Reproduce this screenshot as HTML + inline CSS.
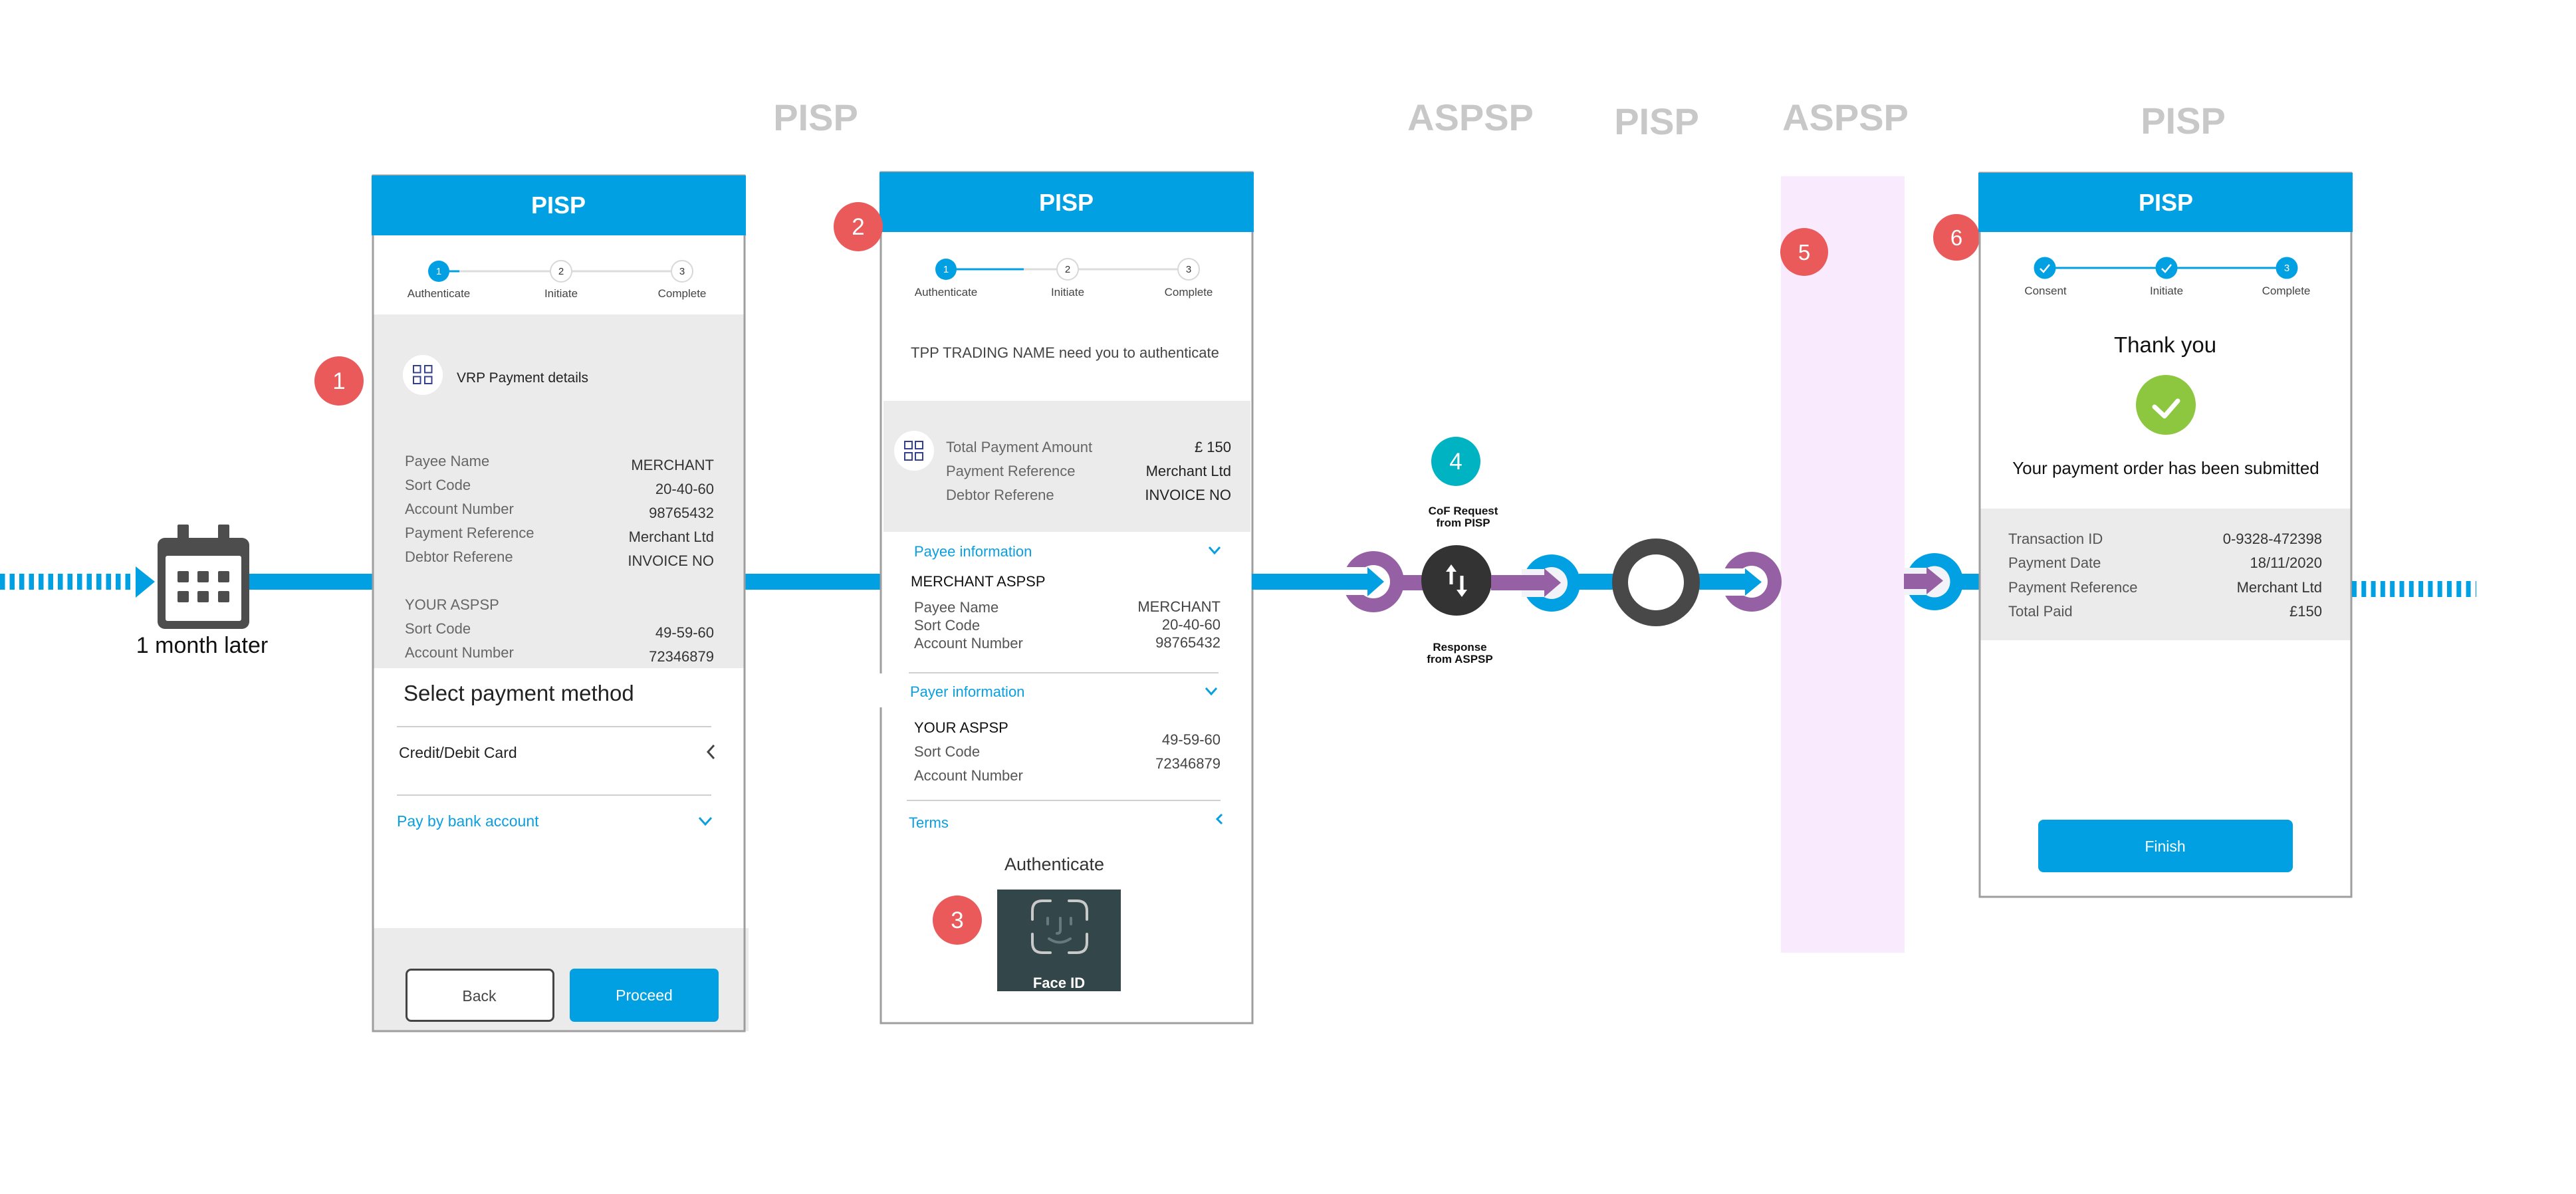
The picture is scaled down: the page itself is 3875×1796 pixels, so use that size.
<!DOCTYPE html>
<html>
<head>
<meta charset="utf-8">
<style>
  html, body { margin:0; padding:0; background:#fff; }
  svg { display:block; }
</style>
</head>
<body>
<svg width="3875" height="1796" viewBox="0 0 3875 1796" xmlns="http://www.w3.org/2000/svg" font-family="'Liberation Sans', Arial, sans-serif">
  <defs>
    <pattern id="dashL" x="0" y="0" width="14.5" height="24" patternUnits="userSpaceOnUse">
      <rect x="0" y="0" width="7.5" height="24" fill="#00a0e2"/>
    </pattern>
    <pattern id="dashR" x="3538" y="0" width="14.3" height="24" patternUnits="userSpaceOnUse">
      <rect x="0" y="0" width="7" height="24" fill="#00a0e2"/>
    </pattern>
  </defs>

  <rect x="0" y="0" width="3875" height="1796" fill="#ffffff"/>

  <!-- Big grey actor labels -->
  <g font-size="56" font-weight="bold" fill="#c8c8c8" text-anchor="middle">
    <text x="1227" y="196">PISP</text>
    <text x="2212" y="196">ASPSP</text>
    <text x="2492" y="202">PISP</text>
    <text x="2776" y="196">ASPSP</text>
    <text x="3284" y="201">PISP</text>
  </g>

  <!-- Pink column -->
  <rect x="2679" y="265" width="186" height="1168" fill="#f9ebfd"/>

  <!-- Left dashed line + arrow -->
  <rect x="0" y="863" width="199" height="24" fill="url(#dashL)"/>
  <polygon points="204,852 233,875 204,899" fill="#00a0e2"/>

  <!-- Calendar -->
  <g fill="#4d4d4d">
    <rect x="267" y="789" width="17" height="24" rx="2"/>
    <rect x="328" y="789" width="17" height="24" rx="2"/>
    <rect x="237" y="809" width="138" height="137" rx="11"/>
  </g>
  <rect x="249" y="836" width="114" height="98" rx="3" fill="#ffffff"/>
  <g fill="#4d4d4d">
    <rect x="267" y="859" width="17" height="17" rx="2"/>
    <rect x="297" y="859" width="17" height="17" rx="2"/>
    <rect x="328" y="859" width="17" height="17" rx="2"/>
    <rect x="267" y="889" width="17" height="17" rx="2"/>
    <rect x="297" y="889" width="17" height="17" rx="2"/>
    <rect x="328" y="889" width="17" height="17" rx="2"/>
  </g>
  <text x="304" y="982" font-size="34" fill="#111" text-anchor="middle">1 month later</text>

  <!-- Blue connectors between cards -->
  <rect x="375" y="863" width="187" height="24" fill="#00a0e2"/>
  <rect x="1120" y="863" width="206" height="24" fill="#00a0e2"/>

  <!-- ================= CARD 1 ================= -->
  <rect x="561" y="264" width="559" height="1287" fill="#ffffff"/>
  <rect x="562" y="473" width="557" height="532" fill="#ebebeb"/>
  <rect x="562" y="1396" width="564" height="155" fill="#ebebeb"/>
  <rect x="561" y="264" width="559" height="1287" fill="none" stroke="#9e9e9e" stroke-width="3"/>
  <rect x="559" y="264" width="563" height="90" fill="#00a0e2"/>
  <text x="840" y="321" font-size="36" font-weight="bold" fill="#fff" text-anchor="middle">PISP</text>

  <!-- steps -->
  <line x1="660" y1="408" x2="1026" y2="408" stroke="#dcdcdc" stroke-width="3"/>
  <line x1="660" y1="408" x2="691" y2="408" stroke="#00a0e2" stroke-width="3"/>
  <circle cx="660" cy="408" r="16" fill="#00a0e2"/>
  <circle cx="844" cy="408" r="16" fill="#fff" stroke="#d8d8d8" stroke-width="2"/>
  <circle cx="1026" cy="408" r="16" fill="#fff" stroke="#d8d8d8" stroke-width="2"/>
  <g font-size="15" text-anchor="middle">
    <text x="660" y="413" fill="#fff">1</text>
    <text x="844" y="413" fill="#333">2</text>
    <text x="1026" y="413" fill="#333">3</text>
  </g>
  <g font-size="17" fill="#444" text-anchor="middle">
    <text x="660" y="447">Authenticate</text>
    <text x="844" y="447">Initiate</text>
    <text x="1026" y="447">Complete</text>
  </g>

  <!-- VRP details -->
  <circle cx="636" cy="564" r="30" fill="#fff"/>
  <g fill="none" stroke="#34408f" stroke-width="2">
    <rect x="622" y="550" width="10.5" height="10.5"/>
    <rect x="639" y="550" width="10.5" height="10.5"/>
    <rect x="622" y="566.5" width="10.5" height="10.5"/>
    <rect x="639" y="566.5" width="10.5" height="10.5"/>
  </g>
  <text x="687" y="575" font-size="21" fill="#222">VRP Payment details</text>

  <g font-size="22" fill="#666">
    <text x="609" y="701">Payee Name</text>
    <text x="609" y="737">Sort Code</text>
    <text x="609" y="773">Account Number</text>
    <text x="609" y="809">Payment Reference</text>
    <text x="609" y="845">Debtor Referene</text>
    <text x="609" y="917">YOUR ASPSP</text>
    <text x="609" y="953">Sort Code</text>
    <text x="609" y="989">Account Number</text>
  </g>
  <g font-size="22" fill="#333" text-anchor="end">
    <text x="1074" y="707">MERCHANT</text>
    <text x="1074" y="743">20-40-60</text>
    <text x="1074" y="779">98765432</text>
    <text x="1074" y="815">Merchant Ltd</text>
    <text x="1074" y="851">INVOICE NO</text>
    <text x="1074" y="959">49-59-60</text>
    <text x="1074" y="995">72346879</text>
  </g>

  <text x="607" y="1054" font-size="33" fill="#222">Select payment method</text>
  <line x1="597" y1="1093" x2="1070" y2="1093" stroke="#cfcfcf" stroke-width="2"/>
  <text x="600" y="1140" font-size="23" fill="#222">Credit/Debit Card</text>
  <polyline points="1074,1121 1065,1131 1074,1141" fill="none" stroke="#444" stroke-width="3"/>
  <line x1="597" y1="1196" x2="1070" y2="1196" stroke="#cfcfcf" stroke-width="2"/>
  <text x="597" y="1243" font-size="23" fill="#0a9fe0">Pay by bank account</text>
  <polyline points="1052,1230 1061,1240 1070,1230" fill="none" stroke="#0a9fe0" stroke-width="3"/>

  <rect x="611.5" y="1458.5" width="221" height="77" rx="7" fill="#fff" stroke="#444" stroke-width="3"/>
  <text x="721" y="1506" font-size="23" fill="#444" text-anchor="middle">Back</text>
  <rect x="857" y="1457" width="224" height="80" rx="7" fill="#00a0e2"/>
  <text x="969" y="1505" font-size="23" fill="#fff" text-anchor="middle">Proceed</text>

  <!-- Badge 1 -->
  <circle cx="510" cy="573" r="37" fill="#ea5a5a"/>
  <text x="510" y="585" font-size="35" fill="#fff" text-anchor="middle">1</text>

  <!-- ================= CARD 2 ================= -->
  <rect x="1325" y="259" width="559" height="1280" fill="#ffffff"/>
  <rect x="1329" y="603" width="552" height="197" fill="#ebebeb"/>
  <rect x="1325" y="259" width="559" height="1280" fill="none" stroke="#9e9e9e" stroke-width="3"/>
  <rect x="1323" y="259" width="563" height="90" fill="#00a0e2"/>
  <text x="1604" y="317" font-size="36" font-weight="bold" fill="#fff" text-anchor="middle">PISP</text>
  <!-- gap in left border -->
  <rect x="1322" y="1013" width="6" height="51" fill="#fff"/>

  <!-- steps -->
  <line x1="1423" y1="405" x2="1788" y2="405" stroke="#dcdcdc" stroke-width="3"/>
  <line x1="1423" y1="405" x2="1540" y2="405" stroke="#00a0e2" stroke-width="3"/>
  <circle cx="1423" cy="405" r="16" fill="#00a0e2"/>
  <circle cx="1606" cy="405" r="16" fill="#fff" stroke="#d8d8d8" stroke-width="2"/>
  <circle cx="1788" cy="405" r="16" fill="#fff" stroke="#d8d8d8" stroke-width="2"/>
  <g font-size="15" text-anchor="middle">
    <text x="1423" y="410" fill="#fff">1</text>
    <text x="1606" y="410" fill="#333">2</text>
    <text x="1788" y="410" fill="#333">3</text>
  </g>
  <g font-size="17" fill="#444" text-anchor="middle">
    <text x="1423" y="445">Authenticate</text>
    <text x="1606" y="445">Initiate</text>
    <text x="1788" y="445">Complete</text>
  </g>

  <text x="1370" y="538" font-size="22" fill="#444">TPP TRADING NAME need you to authenticate</text>

  <circle cx="1375" cy="678" r="30" fill="#fff"/>
  <g fill="none" stroke="#34408f" stroke-width="2">
    <rect x="1361" y="664" width="11" height="11"/>
    <rect x="1377" y="664" width="11" height="11"/>
    <rect x="1361" y="681" width="11" height="11"/>
    <rect x="1377" y="681" width="11" height="11"/>
  </g>
  <g font-size="22" fill="#666">
    <text x="1423" y="680">Total Payment Amount</text>
    <text x="1423" y="716">Payment Reference</text>
    <text x="1423" y="752">Debtor Referene</text>
  </g>
  <g font-size="22" fill="#222" text-anchor="end">
    <text x="1852" y="680">£ 150</text>
    <text x="1852" y="716">Merchant Ltd</text>
    <text x="1852" y="752">INVOICE NO</text>
  </g>

  <text x="1375" y="837" font-size="22" fill="#0a9fe0">Payee information</text>
  <polyline points="1819,823 1827,832 1835,823" fill="none" stroke="#0a9fe0" stroke-width="3"/>
  <text x="1370" y="882" font-size="22" fill="#111">MERCHANT ASPSP</text>
  <g font-size="22" fill="#555">
    <text x="1375" y="921">Payee Name</text>
    <text x="1375" y="948">Sort Code</text>
    <text x="1375" y="975">Account Number</text>
  </g>
  <g font-size="22" fill="#444" text-anchor="end">
    <text x="1836" y="920">MERCHANT</text>
    <text x="1836" y="947">20-40-60</text>
    <text x="1836" y="974">98765432</text>
  </g>
  <line x1="1367" y1="1012" x2="1833" y2="1012" stroke="#cfcfcf" stroke-width="2"/>
  <text x="1369" y="1048" font-size="22" fill="#0a9fe0">Payer information</text>
  <polyline points="1814,1035 1822,1044 1830,1035" fill="none" stroke="#0a9fe0" stroke-width="3"/>
  <text x="1375" y="1102" font-size="22" fill="#111">YOUR ASPSP</text>
  <g font-size="22" fill="#555">
    <text x="1375" y="1138">Sort Code</text>
    <text x="1375" y="1174">Account Number</text>
  </g>
  <g font-size="22" fill="#444" text-anchor="end">
    <text x="1836" y="1120">49-59-60</text>
    <text x="1836" y="1156">72346879</text>
  </g>
  <line x1="1364" y1="1204" x2="1836" y2="1204" stroke="#cfcfcf" stroke-width="2"/>
  <text x="1367" y="1245" font-size="22" fill="#0a9fe0">Terms</text>
  <polyline points="1838,1225 1831,1232 1838,1239" fill="none" stroke="#0a9fe0" stroke-width="3"/>

  <text x="1586" y="1309" font-size="27" fill="#333" text-anchor="middle">Authenticate</text>
  <rect x="1500" y="1338" width="186" height="153" fill="#33464a"/>
  <g fill="none" stroke="#c9c9c9" stroke-width="4" stroke-linecap="round">
    <path d="M1553 1383 V1370 Q1553 1355 1568 1355 H1580"/>
    <path d="M1608 1355 H1620 Q1635 1355 1635 1370 V1383"/>
    <path d="M1553 1405 V1418 Q1553 1433 1568 1433 H1580"/>
    <path d="M1608 1433 H1620 Q1635 1433 1635 1418 V1405"/>
  </g>
  <g fill="none" stroke="#66797d" stroke-width="4" stroke-linecap="round">
    <line x1="1576" y1="1381" x2="1576" y2="1390"/>
    <line x1="1611" y1="1381" x2="1611" y2="1390"/>
    <path d="M1595 1381 V1399 Q1595 1404 1590 1404"/>
    <path d="M1578 1412 Q1594 1423 1610 1412"/>
  </g>
  <text x="1593" y="1486" font-size="22" font-weight="bold" fill="#fff" text-anchor="middle">Face ID</text>

  <!-- Badges 2 & 3 -->
  <circle cx="1291" cy="341" r="37" fill="#ea5a5a"/>
  <text x="1291" y="353" font-size="35" fill="#fff" text-anchor="middle">2</text>
  <circle cx="1440" cy="1384" r="37" fill="#ea5a5a"/>
  <text x="1440" y="1396" font-size="35" fill="#fff" text-anchor="middle">3</text>

  <!-- ================= FLOW ================= -->
  <!-- blue line from card 2 -->
  <rect x="1883" y="863" width="150" height="24" fill="#00a0e2"/>

  <!-- ring 1 (purple) -->
  <circle cx="2066" cy="875" r="46" fill="#9560a4"/>
  <circle cx="2066" cy="875" r="25" fill="#fff"/>
  <rect x="2018" y="853" width="48" height="42" fill="#fff"/>
  <rect x="2000" y="863" width="58" height="24" fill="#00a0e2"/>
  <polygon points="2057,853 2082,875 2057,897" fill="#00a0e2"/>

  <!-- purple link to dark circle -->
  <rect x="2108" y="865" width="40" height="23" fill="#9560a4"/>

  <!-- dark circle -->
  <circle cx="2191" cy="873" r="53" fill="#333"/>
  <g stroke="#fff" stroke-width="5">
    <line x1="2183" y1="856" x2="2183" y2="879"/>
    <line x1="2199" y1="866" x2="2199" y2="890"/>
  </g>
  <polygon points="2175,860 2183,849 2191,860" fill="#fff"/>
  <polygon points="2191,887 2199,898 2207,887" fill="#fff"/>

  <!-- CoF labels -->
  <g font-size="17" font-weight="bold" fill="#111" text-anchor="middle">
    <text x="2201" y="774">CoF Request</text>
    <text x="2201" y="792">from PISP</text>
    <text x="2196" y="979">Response</text>
    <text x="2196" y="997">from ASPSP</text>
  </g>

  <!-- badge 4 -->
  <circle cx="2190" cy="694" r="37" fill="#00b3c3"/>
  <text x="2190" y="706" font-size="35" fill="#fff" text-anchor="middle">4</text>

  <!-- ring 2 (blue) with purple arrow -->
  <circle cx="2334" cy="877" r="43" fill="#00a0e2"/>
  <circle cx="2334" cy="877" r="24" fill="#f2f3f8"/>
  <rect x="2289" y="856" width="45" height="42" fill="#f2f3f8"/>
  <rect x="2243" y="865" width="81" height="23" fill="#9560a4"/>
  <polygon points="2323,855 2348,876.5 2323,898" fill="#9560a4"/>

  <!-- blue line ring2 -> big ring -> ring3 -->
  <rect x="2375" y="863" width="60" height="24" fill="#00a0e2"/>
  <rect x="2548" y="863" width="78" height="24" fill="#00a0e2"/>

  <!-- big dark ring -->
  <circle cx="2491" cy="876" r="54" fill="#fff" stroke="#484848" stroke-width="24"/>

  <!-- ring 3 (purple) -->
  <circle cx="2635" cy="875" r="45" fill="#9560a4"/>
  <circle cx="2635" cy="875" r="24" fill="#fff"/>
  <rect x="2588" y="855" width="47" height="41" fill="#fff"/>
  <rect x="2557" y="863" width="69" height="24" fill="#00a0e2"/>
  <polygon points="2625,855 2650,875.5 2625,896" fill="#00a0e2"/>

  <!-- ring 4 (blue) with purple arrow -->
  <circle cx="2910" cy="875" r="43" fill="#00a0e2"/>
  <circle cx="2910" cy="875" r="23.5" fill="#f2f3f8"/>
  <rect x="2864" y="854" width="46" height="41" fill="#f2f3f8"/>
  <rect x="2864" y="863" width="35" height="23" fill="#9560a4"/>
  <polygon points="2898,853 2923,873.5 2898,894" fill="#9560a4"/>
  <rect x="2950" y="863" width="29" height="24" fill="#00a0e2"/>

  <!-- badges 5 & 6 -->
  <circle cx="2714" cy="379" r="36" fill="#ea5a5a"/>
  <text x="2714" y="391" font-size="33" fill="#fff" text-anchor="middle">5</text>
  <circle cx="2943" cy="357" r="35" fill="#ea5a5a"/>
  <text x="2943" y="369" font-size="33" fill="#fff" text-anchor="middle">6</text>

  <!-- ================= CARD 3 ================= -->
  <rect x="2978" y="260" width="559" height="1089" fill="#ffffff"/>
  <rect x="2979" y="765" width="557" height="198" fill="#ebebeb"/>
  <rect x="2978" y="260" width="559" height="1089" fill="none" stroke="#9e9e9e" stroke-width="3"/>
  <rect x="2976" y="260" width="563" height="89" fill="#00a0e2"/>
  <text x="3258" y="317" font-size="36" font-weight="bold" fill="#fff" text-anchor="middle">PISP</text>

  <line x1="3076" y1="403" x2="3440" y2="403" stroke="#00a0e2" stroke-width="3"/>
  <circle cx="3076" cy="403" r="16.5" fill="#00a0e2"/>
  <circle cx="3259" cy="403" r="16.5" fill="#00a0e2"/>
  <circle cx="3440" cy="403" r="16.5" fill="#00a0e2"/>
  <polyline points="3069,404 3074,409 3083,398" fill="none" stroke="#fff" stroke-width="2.5"/>
  <polyline points="3252,404 3257,409 3266,398" fill="none" stroke="#fff" stroke-width="2.5"/>
  <text x="3440" y="408" font-size="15" fill="#fff" text-anchor="middle">3</text>
  <g font-size="17" fill="#444" text-anchor="middle">
    <text x="3077" y="443">Consent</text>
    <text x="3259" y="443">Initiate</text>
    <text x="3439" y="443">Complete</text>
  </g>

  <text x="3257" y="530" font-size="33" fill="#111" text-anchor="middle">Thank you</text>
  <circle cx="3258" cy="609" r="45" fill="#8dc63f"/>
  <polyline points="3241,612 3256,626 3276,603" fill="none" stroke="#fff" stroke-width="7" stroke-linecap="round" stroke-linejoin="round"/>
  <text x="3258" y="713" font-size="26" fill="#111" text-anchor="middle">Your payment order has been submitted</text>

  <g font-size="22" fill="#555">
    <text x="3021" y="818">Transaction ID</text>
    <text x="3021" y="854">Payment Date</text>
    <text x="3021" y="891">Payment Reference</text>
    <text x="3021" y="927">Total Paid</text>
  </g>
  <g font-size="22" fill="#333" text-anchor="end">
    <text x="3493" y="818">0-9328-472398</text>
    <text x="3493" y="854">18/11/2020</text>
    <text x="3493" y="891">Merchant Ltd</text>
    <text x="3493" y="927">£150</text>
  </g>

  <rect x="3066" y="1233" width="383" height="79" rx="8" fill="#00a0e2"/>
  <text x="3257" y="1281" font-size="23" fill="#fff" text-anchor="middle">Finish</text>

  <!-- right dashed line -->
  <rect x="3538" y="874" width="187" height="24" fill="url(#dashR)"/>
</svg>
</body>
</html>
